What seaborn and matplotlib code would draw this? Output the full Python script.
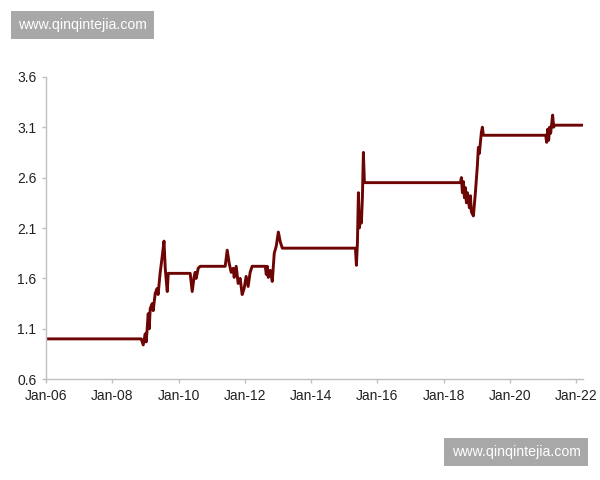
import pandas as pd
import matplotlib
matplotlib.use("Agg")
import matplotlib.pyplot as plt
import matplotlib.dates as mdates
import seaborn as sns

# Series (date, index level)
dates = [
    "2006-01-01", "2008-11-14", "2008-12-06", "2008-12-28", "2009-01-08",
    "2009-01-30", "2009-02-10", "2009-02-21", "2009-03-15", "2009-03-26",
    "2009-04-17", "2009-05-08", "2009-05-19", "2009-06-10", "2009-07-01",
    "2009-07-23", "2009-08-06", "2009-08-17", "2009-08-28", "2009-09-08",
    "2010-05-08", "2010-05-30", "2010-06-21", "2010-07-02", "2010-07-13",
    "2010-08-04", "2010-08-26", "2011-05-29", "2011-06-20", "2011-07-12",
    "2011-08-03", "2011-08-25", "2011-09-05", "2011-09-27", "2011-10-19",
    "2011-11-10", "2011-12-02", "2011-12-24", "2012-01-15", "2012-02-06",
    "2012-02-28", "2012-03-21", "2012-08-13", "2012-08-24", "2012-09-04",
    "2012-09-15", "2012-10-07", "2012-10-29", "2012-11-20", "2012-12-12",
    "2013-01-04", "2013-01-26", "2013-02-17", "2015-05-04", "2015-05-15",
    "2015-05-26", "2015-06-06", "2015-06-17", "2015-06-28", "2015-07-09",
    "2015-07-20", "2015-07-31", "2015-08-11", "2018-07-05", "2018-07-16",
    "2018-07-27", "2018-08-07", "2018-08-18", "2018-08-29", "2018-09-09",
    "2018-09-20", "2018-10-12", "2018-10-23", "2018-11-03", "2018-11-25",
    "2018-12-17", "2019-01-08", "2019-01-19", "2019-01-30", "2019-02-21",
    "2019-03-04", "2019-03-15", "2021-01-30", "2021-02-10", "2021-02-21",
    "2021-03-04", "2021-03-15", "2021-03-26", "2021-04-17", "2021-04-28",
    "2021-05-09", "2022-03-11",
]
values = [
    1.00, 1.00, 0.94, 1.05, 0.97,
    1.25, 1.10, 1.30, 1.35, 1.28,
    1.45, 1.50, 1.44, 1.65, 1.80,
    1.97, 1.70, 1.58, 1.47, 1.65,
    1.65, 1.47, 1.62, 1.66, 1.60,
    1.70, 1.72, 1.72, 1.88, 1.75,
    1.66, 1.70, 1.61, 1.72, 1.55,
    1.60, 1.44, 1.50, 1.62, 1.52,
    1.66, 1.72, 1.72, 1.64, 1.72,
    1.61, 1.68, 1.57, 1.85, 1.92,
    2.06, 1.96, 1.90, 1.90, 1.73,
    1.95, 2.45, 2.10, 2.20, 2.15,
    2.40, 2.85, 2.55, 2.55, 2.60,
    2.45, 2.56, 2.40, 2.50, 2.35,
    2.45, 2.30, 2.42, 2.26, 2.22,
    2.45, 2.72, 2.90, 2.84, 3.05,
    3.10, 3.02, 3.02, 2.95, 3.08,
    2.97, 3.10, 3.04, 3.22, 3.10,
    3.12, 3.12,
]
y_ticks = [0.6, 1.1, 1.6, 2.1, 2.6, 3.1, 3.6]
x_tick_years = list(range(2006, 2023, 2))
watermark = "www.qinqintejia.com"

df = pd.DataFrame({"date": pd.to_datetime(dates), "value": values})

sns.set_style("white")
plt.rcParams["font.family"] = ["Liberation Sans", "DejaVu Sans"]

fig = plt.figure(figsize=(6, 4.8), dpi=100)
ax = fig.add_axes([0.077, 0.21, 0.895, 0.63])

sns.lineplot(data=df, x="date", y="value", color="#6E0505", linewidth=2.1,
             sort=False, estimator=None, ax=ax)

ax.set_ylim(0.6, 3.6)
ax.set_yticks(y_ticks)
ax.set_yticklabels([f"{v:.1f}" for v in y_ticks])
ax.set_xlim(pd.Timestamp("2006-01-01"), pd.Timestamp("2022-03-20"))
ax.set_xticks([pd.Timestamp(f"{y}-01-01") for y in x_tick_years])
ax.xaxis.set_major_formatter(mdates.DateFormatter("%b-%y"))
ax.set_xlabel("")
ax.set_ylabel("")

for side in ["top", "right"]:
    ax.spines[side].set_visible(False)
for side in ["left", "bottom"]:
    ax.spines[side].set_color("#BFBFBF")
    ax.spines[side].set_linewidth(1.0)
ax.tick_params(axis="both", which="major", direction="out", length=3,
               width=1.0, color="#BFBFBF", labelsize=10, labelcolor="#222222",
               left=True, bottom=True, pad=4)

# watermark boxes
box = dict(boxstyle="square,pad=0.5", fc="#A8A8A8", ec="none")
fig.text(0.137, 0.948, watermark, ha="center", va="center", color="white",
         fontsize=10.2, bbox=box)
fig.text(0.86, 0.058, watermark, ha="center", va="center", color="white",
         fontsize=10.2, bbox=box)

fig.savefig("out.png", dpi=100, facecolor="white")
